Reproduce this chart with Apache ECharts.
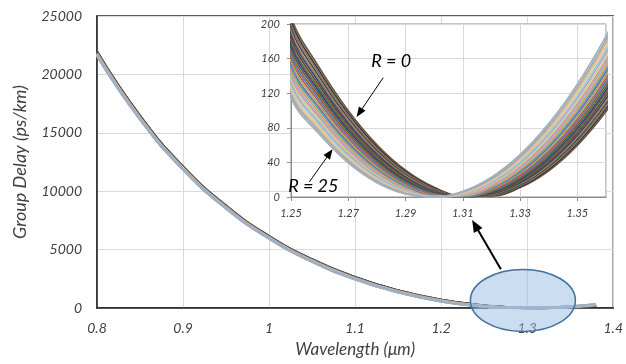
<!DOCTYPE html>
<html>
<head>
<meta charset="utf-8">
<script src="https://cdn.jsdelivr.net/npm/echarts@6/dist/echarts.min.js"></script>
<style>
  html, body { margin: 0; padding: 0; background: #fff; }
  #chart { width: 626px; height: 364px; }
</style>
</head>
<body>
<div id="chart"></div>
<script>
// Wavelength samples (µm): coarse over the full range, fine near the zero-dispersion point
const wavelength = [0.80, 0.85, 0.90, 0.95, 1.00, 1.05, 1.10, 1.15, 1.20,
  1.25, 1.26, 1.27, 1.28, 1.29, 1.30, 1.31, 1.32, 1.33, 1.34, 1.35, 1.36, 1.37, 1.38];

// Group delay (ps/km) for each value of R
const delayR0  = [21950,16450,12100,8750,6150,4160,2640,1500,700, 207.7,148.8,99.7,60.4,30.9,11.2,1.3,1.2,10.9,30.4,59.7,98.8,147.7,206.4];
const delayR1  = [21936,16438,12090,8741,6142,4152,2632,1494,694, 203.2,145.0,96.6,58.0,29.2,10.2,0.9,1.5,11.9,32.1,62.1,101.9,151.5,210.9];
const delayR2  = [21922,16426,12080,8732,6133,4144,2625,1487,689, 199.5,141.8,94.0,56.0,27.8,9.3,0.7,1.9,12.9,33.6,64.2,104.6,154.8,214.7];
const delayR3  = [21908,16414,12070,8722,6125,4136,2617,1481,683, 195.1,138.2,91.0,53.7,26.2,8.4,0.5,2.3,14.0,35.5,66.7,107.8,158.6,219.3];
const delayR4  = [21894,16402,12060,8713,6116,4128,2610,1474,678, 190.8,134.5,88.1,51.4,24.6,7.5,0.3,2.8,15.2,37.3,69.3,111.0,162.6,223.9];
const delayR5  = [21880,16390,12050,8704,6108,4120,2602,1468,672, 187.1,131.5,85.6,49.6,23.3,6.8,0.2,3.3,16.2,39.0,71.5,113.8,166.0,227.9];
const delayR6  = [21866,16378,12040,8695,6100,4112,2594,1462,666, 182.9,128.0,82.8,47.4,21.8,6.0,0.1,3.9,17.5,40.9,74.2,117.2,170.0,232.6];
const delayR7  = [21852,16366,12030,8686,6091,4104,2587,1455,661, 178.8,124.5,80.0,45.3,20.4,5.3,0.0,4.5,18.8,42.9,76.8,120.5,174.1,237.4];
const delayR8  = [21838,16354,12020,8676,6083,4096,2579,1449,655, 175.2,121.5,77.6,43.5,19.2,4.7,0.0,5.1,20.0,44.7,79.2,123.5,177.6,241.5];
const delayR9  = [21824,16342,12010,8667,6074,4088,2572,1442,650, 171.2,118.1,74.9,41.5,17.9,4.1,0.0,5.8,21.4,46.8,82.0,127.0,181.7,246.3];
const delayR10 = [21810,16330,12000,8658,6066,4080,2564,1436,644, 167.1,114.8,72.3,39.5,16.6,3.5,0.1,6.6,22.9,48.9,84.8,130.5,185.9,251.2];
const delayR11 = [21796,16318,11990,8649,6058,4072,2556,1430,638, 163.7,112.0,70.0,37.9,15.5,3.0,0.2,7.3,24.2,50.8,87.3,133.5,189.6,255.4];
const delayR12 = [21782,16306,11980,8640,6049,4064,2549,1423,633, 159.8,108.7,67.4,36.0,14.3,2.5,0.4,8.2,25.7,53.0,90.2,137.1,193.9,260.4];
const delayR13 = [21768,16294,11970,8630,6041,4056,2541,1417,627, 155.9,105.5,64.9,34.2,13.2,2.0,0.6,9.1,27.3,55.3,93.2,140.8,198.2,265.4];
const delayR14 = [21754,16282,11960,8621,6032,4048,2534,1410,622, 152.0,102.3,62.5,32.4,12.1,1.6,0.9,10.0,28.9,57.7,96.2,144.5,202.6,270.5];
const delayR15 = [21740,16270,11950,8612,6024,4040,2526,1404,616, 148.8,99.7,60.4,30.9,11.2,1.3,1.2,10.9,30.4,59.7,98.8,147.7,206.4,274.9];
const delayR16 = [21726,16258,11940,8603,6016,4032,2518,1398,610, 145.0,96.6,58.0,29.2,10.2,1.0,1.5,11.9,32.1,62.1,101.9,151.5,210.9,280.1];
const delayR17 = [21712,16246,11930,8594,6007,4024,2511,1391,605, 141.3,93.6,55.7,27.5,9.2,0.7,1.9,13.0,33.9,64.6,105.1,155.3,215.4,285.3];
const delayR18 = [21698,16234,11920,8584,5999,4016,2503,1385,599, 138.2,91.0,53.7,26.1,8.4,0.5,2.3,14.0,35.5,66.7,107.8,158.6,219.3,289.8];
const delayR19 = [21684,16222,11910,8575,5990,4008,2496,1378,594, 134.5,88.1,51.4,24.6,7.5,0.3,2.8,15.2,37.3,69.3,111.0,162.6,223.9,295.1];
const delayR20 = [21670,16210,11900,8566,5982,4000,2488,1372,588, 131.0,85.2,49.2,23.1,6.7,0.1,3.4,16.4,39.2,71.9,114.3,166.6,228.6,300.4];
const delayR21 = [21656,16198,11890,8557,5974,3992,2480,1366,582, 128.0,82.8,47.4,21.8,6.0,0.1,3.9,17.5,40.9,74.2,117.2,170.0,232.6,305.0];
const delayR22 = [21642,16186,11880,8548,5965,3984,2473,1359,577, 124.5,80.0,45.3,20.4,5.3,0.0,4.5,18.8,42.9,76.8,120.6,174.1,237.4,310.5];
const delayR23 = [21628,16174,11870,8538,5957,3976,2465,1353,571, 121.0,77.2,43.2,19.0,4.6,0.0,5.2,20.2,45.0,79.6,124.0,178.2,242.2,316.0];
const delayR24 = [21614,16162,11860,8529,5948,3968,2458,1346,566, 118.1,74.9,41.5,17.9,4.1,0.0,5.8,21.4,46.8,82.0,127.0,181.7,246.3,320.7];
const delayR25 = [21600,16150,11850,8520,5940,3960,2450,1340,560, 114.8,72.3,39.5,16.6,3.5,0.1,6.6,22.9,48.9,84.8,130.5,185.9,251.2,326.3];

const delays = [delayR0, delayR1, delayR2, delayR3, delayR4, delayR5, delayR6, delayR7, delayR8,
  delayR9, delayR10, delayR11, delayR12, delayR13, delayR14, delayR15, delayR16, delayR17,
  delayR18, delayR19, delayR20, delayR21, delayR22, delayR23, delayR24, delayR25];

// Annotation texts
const labelLow = 'R = 0';
const labelHigh = 'R = 25';
const xTitle = 'Wavelength (\u03bcm)';
const yTitle = 'Group Delay (ps/km)';

// Line colours, R = 0 first
const palette = ['#6b5a48', '#3b3330', '#8a7560', '#4f4a48', '#9c8468', '#2f4f6f',
  '#7a3b39', '#5f7530', '#4d3b62', '#276a7c', '#b65708', '#4f81bd', '#c0504d',
  '#9bbb59', '#8064a2', '#4bacc6', '#f79646', '#95b3d7', '#d99694', '#c3d69b',
  '#b3a2c7', '#93cddd', '#fac090', '#c4bd97', '#a6a6a6', '#9db0c8'];

const FONT = 'Lato, "Open Sans", sans-serif';
const TEXT = '#404040';

const mainSeries = delays.map((d, i) => ({
  type: 'line', name: 'R' + i, xAxisIndex: 0, yAxisIndex: 0,
  data: wavelength.map((w, k) => [w, d[k]]),
  smooth: true, showSymbol: false, silent: true, z: 2,
  lineStyle: { width: 2.4, color: palette[i] }, itemStyle: { color: palette[i] }
}));

const insetSeries = delays.map((d, i) => ({
  type: 'line', name: 'R' + i + ' zoom', xAxisIndex: 1, yAxisIndex: 1,
  data: wavelength.map((w, k) => [w, d[k]]),
  smooth: 0.4, showSymbol: false, silent: true, clip: true, z: 12,
  lineStyle: { width: 1.7, color: palette[i] }, itemStyle: { color: palette[i] }
}));

const chart = echarts.init(document.getElementById('chart'), null, { renderer: 'canvas' });

const plainNumber = v => String(v);

chart.setOption({
  animation: false,
  backgroundColor: '#fff',
  grid: [
    { left: 97, top: 16, width: 520, height: 292, show: true,
      borderColor: '#262626', borderWidth: 1.3, backgroundColor: 'transparent', z: 0 },
    { left: 291, top: 24, width: 315, height: 173, show: true,
      borderColor: '#8c8c8c', borderWidth: 1, backgroundColor: '#fff', z: 10 }
  ],
  xAxis: [
    { type: 'value', gridIndex: 0, min: 0.8, max: 1.4, interval: 0.1,
      name: xTitle, nameLocation: 'middle', nameGap: 33,
      nameTextStyle: { fontFamily: FONT, fontStyle: 'italic', fontSize: 17, color: TEXT },
      axisLine: { show: true, onZero: false, lineStyle: { color: '#262626', width: 1.5 } },
      axisTick: { show: false },
      axisLabel: { margin: 13, fontFamily: FONT, fontStyle: 'italic', fontSize: 14, color: TEXT },
      splitLine: { show: true, lineStyle: { color: '#d9d9d9', width: 1 } } },
    { type: 'value', gridIndex: 1, min: 1.25, max: 1.36, interval: 0.02, z: 11,
      axisLine: { show: true, onZero: false, lineStyle: { color: '#8c8c8c', width: 1 } },
      axisTick: { show: true, inside: false, length: 4, lineStyle: { color: '#8c8c8c' } },
      axisLabel: { margin: 11, fontFamily: FONT, fontStyle: 'italic', fontSize: 11, color: TEXT,
        showMaxLabel: false },
      splitLine: { show: true, lineStyle: { color: '#d9d9d9', width: 1 } } }
  ],
  yAxis: [
    { type: 'value', gridIndex: 0, min: 0, max: 25000, interval: 5000,
      name: yTitle, nameLocation: 'middle', nameGap: 68, nameRotate: 90,
      nameTextStyle: { fontFamily: FONT, fontStyle: 'italic', fontSize: 18, color: TEXT },
      axisLine: { show: true, lineStyle: { color: '#262626', width: 1.5 } },
      axisTick: { show: false },
      axisLabel: { margin: 15, fontFamily: FONT, fontStyle: 'italic', fontSize: 14, color: TEXT,
        formatter: plainNumber },
      splitLine: { show: true, lineStyle: { color: '#d9d9d9', width: 1 } } },
    { type: 'value', gridIndex: 1, min: 0, max: 200, interval: 40, z: 11,
      axisLine: { show: true, lineStyle: { color: '#8c8c8c', width: 1 } },
      axisTick: { show: true, inside: false, length: 4, lineStyle: { color: '#8c8c8c' } },
      axisLabel: { margin: 11, fontFamily: FONT, fontStyle: 'italic', fontSize: 11, color: TEXT },
      splitLine: { show: true, lineStyle: { color: '#d9d9d9', width: 1 } } }
  ],
  series: mainSeries.concat(insetSeries)
});

// Annotations placed in data coordinates of the two grids
function toMain(p) { return chart.convertToPixel({ xAxisIndex: 0, yAxisIndex: 0 }, p); }
function toInset(p) { return chart.convertToPixel({ xAxisIndex: 1, yAxisIndex: 1 }, p); }

function arrow(p1, p2, width, headLen, headWidth) {
  const dx = p2[0] - p1[0], dy = p2[1] - p1[1];
  const len = Math.hypot(dx, dy), ux = dx / len, uy = dy / len;
  const bx = p2[0] - ux * headLen, by = p2[1] - uy * headLen;
  return [
    { type: 'line', silent: true, z: 30,
      shape: { x1: p1[0], y1: p1[1], x2: bx + ux, y2: by + uy },
      style: { stroke: '#000', lineWidth: width } },
    { type: 'polygon', silent: true, z: 30,
      shape: { points: [[p2[0], p2[1]],
        [bx - uy * headWidth / 2, by + ux * headWidth / 2],
        [bx + uy * headWidth / 2, by - ux * headWidth / 2]] },
      style: { fill: '#000' } }
  ];
}

const ellipseCenter = toMain([1.295, 650]);
const lowText = toInset([1.285, 157]);
const highText = toInset([1.2578, 13]);

const graphics = [
  { type: 'ellipse', silent: true, z: 25,
    shape: { cx: ellipseCenter[0], cy: ellipseCenter[1], rx: 52.5, ry: 31 },
    style: { fill: 'rgba(150,188,228,0.5)', stroke: '#41719c', lineWidth: 1.5 } },
  { type: 'text', silent: true, z: 30, x: lowText[0], y: lowText[1],
    style: { text: labelLow, font: 'italic 18px ' + FONT, fill: '#000', align: 'center', verticalAlign: 'middle' } },
  { type: 'text', silent: true, z: 30, x: highText[0], y: highText[1],
    style: { text: labelHigh, font: 'italic 18px ' + FONT, fill: '#000', align: 'center', verticalAlign: 'middle' } }
]
  .concat(arrow(toInset([1.2822, 138]), toInset([1.2729, 92.6]), 1, 10, 8))
  .concat(arrow(toInset([1.2564, 17.4]), toInset([1.2645, 55.2]), 1, 10, 8))
  .concat(arrow(toMain([1.2694, 3310]), toMain([1.236, 7530]), 2, 12, 10));

chart.setOption({ graphic: graphics });
</script>
</body>
</html>
